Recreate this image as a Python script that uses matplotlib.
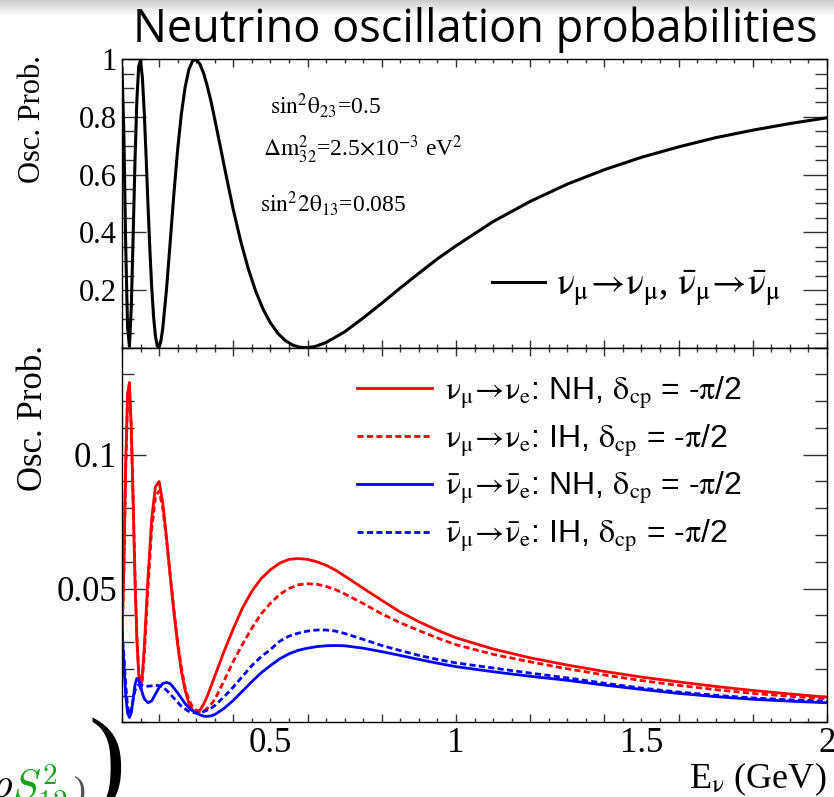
import numpy as np
import matplotlib
matplotlib.use("Agg")
import matplotlib.pyplot as plt
from matplotlib.ticker import MultipleLocator, FuncFormatter

plt.rcParams['mathtext.fontset'] = 'stix'
plt.rcParams['font.family'] = ['Liberation Serif', 'DejaVu Serif']

# ---------------- data ----------------
E_top = [0.100, 0.105, 0.110, 0.115, 0.120, 0.125, 0.130, 0.135, 0.140, 0.145,
         0.150, 0.155, 0.160, 0.165, 0.170, 0.175, 0.180, 0.185, 0.190, 0.195,
         0.200, 0.205, 0.210, 0.220, 0.230, 0.240, 0.250, 0.260, 0.270, 0.280,
         0.290, 0.300, 0.310, 0.320, 0.330, 0.340, 0.350, 0.360, 0.380, 0.400,
         0.420, 0.440, 0.460, 0.480, 0.500, 0.520, 0.540, 0.560, 0.580, 0.600,
         0.620, 0.650, 0.700, 0.750, 0.800, 0.850, 0.900, 0.950, 1.000, 1.100,
         1.200, 1.300, 1.400, 1.500, 1.600, 1.700, 1.800, 1.900, 2.000]
P_mumu = [0.970, 0.744, 0.353, 0.070, 0.005, 0.139, 0.385, 0.647, 0.857, 0.975,
          0.997, 0.935, 0.814, 0.661, 0.496, 0.343, 0.211, 0.109, 0.041, 0.006,
          0.002, 0.024, 0.069, 0.203, 0.368, 0.536, 0.687, 0.810, 0.902, 0.963,
          0.994, 0.999, 0.983, 0.951, 0.906, 0.853, 0.792, 0.729, 0.601, 0.478,
          0.369, 0.275, 0.197, 0.134, 0.086, 0.050, 0.025, 0.009, 0.0015, 0.0002,
          0.004, 0.018, 0.055, 0.103, 0.154, 0.207, 0.258, 0.308, 0.353, 0.437,
          0.507, 0.567, 0.617, 0.660, 0.696, 0.728, 0.754, 0.777, 0.797]

E_app = [0.100, 0.105, 0.110, 0.115, 0.120, 0.125, 0.130, 0.135, 0.140, 0.145,
         0.150, 0.155, 0.160, 0.170, 0.180, 0.190, 0.200, 0.210, 0.220, 0.230,
         0.240, 0.250, 0.260, 0.270, 0.280, 0.290, 0.300, 0.310, 0.320, 0.330,
         0.340, 0.350, 0.375, 0.400, 0.425, 0.450, 0.475, 0.500, 0.525, 0.550,
         0.575, 0.600, 0.625, 0.650, 0.675, 0.700, 0.750, 0.800, 0.850, 0.900,
         0.950, 1.000, 1.100, 1.200, 1.300, 1.400, 1.500, 1.600, 1.700, 1.800,
         1.900, 2.000]
P_nue_NH = [0.032, 0.058, 0.097, 0.123, 0.127, 0.110, 0.082, 0.053, 0.031, 0.018,
            0.0125, 0.018, 0.028, 0.054, 0.076, 0.088, 0.090, 0.082, 0.069, 0.0545,
            0.041, 0.029, 0.019, 0.012, 0.0072, 0.0045, 0.0036, 0.0045, 0.0068, 0.0098,
            0.0135, 0.0172, 0.0265, 0.0350, 0.0428, 0.0490, 0.0537, 0.0570, 0.0595, 0.0609,
            0.0612, 0.0609, 0.0600, 0.0587, 0.0569, 0.0547, 0.0501, 0.0456, 0.0412, 0.0376,
            0.0344, 0.0316, 0.0274, 0.0241, 0.0214, 0.0190, 0.0169, 0.0151, 0.0134, 0.0119,
            0.0106, 0.0094]
P_nue_IH = [0.031, 0.056, 0.094, 0.120, 0.125, 0.111, 0.084, 0.056, 0.033, 0.019,
            0.0130, 0.0160, 0.025, 0.050, 0.072, 0.084, 0.0865, 0.080, 0.068, 0.055,
            0.042, 0.030, 0.0205, 0.013, 0.0085, 0.0058, 0.0045, 0.0040, 0.0042, 0.0052,
            0.0067, 0.0085, 0.0155, 0.0228, 0.0292, 0.0352, 0.0405, 0.0445, 0.0478, 0.0500,
            0.0514, 0.0518, 0.0516, 0.0508, 0.0496, 0.0480, 0.0444, 0.0405, 0.0372, 0.0343,
            0.0315, 0.0290, 0.0254, 0.0226, 0.0200, 0.0177, 0.0156, 0.0138, 0.0122, 0.0108,
            0.0097, 0.0088]
P_nuebar_NH = [0.034, 0.022, 0.010, 0.0035, 0.0018, 0.0035, 0.0085, 0.0140, 0.0164, 0.0160,
               0.0135, 0.0108, 0.0088, 0.0073, 0.0080, 0.0105, 0.0130, 0.0145, 0.0149, 0.0144,
               0.0128, 0.0110, 0.0090, 0.0070, 0.0055, 0.0043, 0.0035, 0.0028, 0.0023, 0.0022,
               0.0024, 0.0029, 0.0052, 0.0082, 0.0117, 0.0152, 0.0185, 0.0212, 0.0237, 0.0256,
               0.0269, 0.0277, 0.0283, 0.0286, 0.0287, 0.0286, 0.0277, 0.0264, 0.0250, 0.0235,
               0.0221, 0.0208, 0.0189, 0.0172, 0.0157, 0.0139, 0.0123, 0.0108, 0.0096, 0.0086,
               0.0079, 0.0073]
P_nuebar_IH = [0.034, 0.025, 0.014, 0.006, 0.003, 0.0045, 0.0085, 0.0118, 0.0135, 0.0140,
               0.0140, 0.0138, 0.0136, 0.0135, 0.0136, 0.0138, 0.0137, 0.0132, 0.0120, 0.0105,
               0.0090, 0.0075, 0.0060, 0.0050, 0.0041, 0.0036, 0.0035, 0.0036, 0.0040, 0.0046,
               0.0053, 0.0062, 0.0095, 0.0132, 0.0172, 0.0212, 0.0245, 0.0272, 0.0303, 0.0322,
               0.0333, 0.0341, 0.0345, 0.0345, 0.0341, 0.0332, 0.0310, 0.0287, 0.0268, 0.0250,
               0.0235, 0.0222, 0.0203, 0.0184, 0.0166, 0.0146, 0.0128, 0.0113, 0.0101, 0.0091,
               0.0084, 0.0079]

x_labels = [0.5, 1.0, 1.5, 2.0]
x_label_text = ["0.5", "1", "1.5", "2"]

title = "Neutrino oscillation probabilities"
NU, MU = r"\mathrm{\nu}", r"\mathrm{\mu}"
NUB = r"\bar{\mathrm{\nu}}"
lab_top = (r"$%s_{%s}\!\rightarrow\!%s_{%s}$, $%s_{%s}\!\rightarrow\!%s_{%s}$"
           % (NU, MU, NU, MU, NUB, MU, NUB, MU))
tail = r": %s, $\mathrm{\delta}_{\mathrm{cp}}$ = -$\mathrm{\pi}$/2"
lab_nue_NH = r"$%s_{%s}\!\rightarrow\!%s_{\mathrm{e}}$" % (NU, MU, NU) + tail % "NH"
lab_nue_IH = r"$%s_{%s}\!\rightarrow\!%s_{\mathrm{e}}$" % (NU, MU, NU) + tail % "IH"
lab_nuebar_NH = r"$%s_{%s}\!\rightarrow\!%s_{\mathrm{e}}$" % (NUB, MU, NUB) + tail % "NH"
lab_nuebar_IH = r"$%s_{%s}\!\rightarrow\!%s_{\mathrm{e}}$" % (NUB, MU, NUB) + tail % "IH"

# ---------------- figure ----------------
W, H = 834, 797
fig = plt.figure(figsize=(W / 100, H / 100), dpi=100)

# slide shadow at the top
axg = fig.add_axes([0, 1 - 16 / H, 1, 16 / H], zorder=-5)
axg.imshow(np.linspace(0.80, 1.0, 32).reshape(-1, 1), cmap='gray', vmin=0, vmax=1,
           aspect='auto', extent=[0, 1, 0, 1])
axg.set_axis_off()

left, right = 122, 827
top1, mid, bot2 = 59.2, 347.7, 722.3
ax1 = fig.add_axes([left / W, (H - mid) / H, (right - left) / W, (mid - top1) / H])
ax2 = fig.add_axes([left / W, (H - bot2) / H, (right - left) / W, (bot2 - mid) / H])

ax1.plot(E_top, P_mumu, color='black', lw=2.2, label=lab_top, solid_joinstyle='round')
ax2.plot(E_app, P_nue_NH, color='#ff0000', lw=2.0, label=lab_nue_NH)
ax2.plot(E_app, P_nue_IH, color='#ff0000', lw=2.0, ls=(0, (2.2, 1.2)), label=lab_nue_IH)
ax2.plot(E_app, P_nuebar_NH, color='#0000ff', lw=2.0, label=lab_nuebar_NH)
ax2.plot(E_app, P_nuebar_IH, color='#0000ff', lw=2.0, ls=(0, (2.2, 1.2)), label=lab_nuebar_IH)

for ax in (ax1, ax2):
    ax.set_xlim(0.1, 2.0)
    ax.xaxis.set_major_locator(MultipleLocator(0.2))
    ax.xaxis.set_minor_locator(MultipleLocator(0.05))
    ax.tick_params(which='both', direction='in', top=True, right=True,
                   color='#333333', width=1.0, labelbottom=False)
    ax.tick_params(axis='y', which='major', length=17, pad=3.6)
    ax.tick_params(axis='y', which='minor', length=8.5)
    ax.tick_params(axis='x', which='major', length=6)
    ax.tick_params(axis='x', which='minor', length=3)
    for s in ax.spines.values():
        s.set_linewidth(1.0)
        s.set_color('black')

def yfmt(v, pos):
    if abs(v) < 1e-9:
        return ""
    return ("%.2f" % v).rstrip('0').rstrip('.')

ax1.set_ylim(0, 1.0)
ax1.yaxis.set_major_locator(MultipleLocator(0.2))
ax1.yaxis.set_minor_locator(MultipleLocator(0.05))
ax1.yaxis.set_major_formatter(FuncFormatter(yfmt))
ax1.tick_params(axis='y', labelsize=22)

ax2.set_ylim(0, 0.14)
ax2.yaxis.set_major_locator(MultipleLocator(0.05))
ax2.yaxis.set_minor_locator(MultipleLocator(0.01))
ax2.yaxis.set_major_formatter(FuncFormatter(yfmt))
ax2.tick_params(axis='y', labelsize=25)

# x tick labels (ROOT style: labels at 0.5 steps)
for xv, xt in zip(x_labels, x_label_text):
    ax2.text(xv, -0.08, xt, transform=ax2.get_xaxis_transform(), ha='center',
             va='baseline', fontsize=25)

# annotations
ax1.text(0.210, 0.810, r"$\mathrm{sin}^{2}\mathrm{\theta}_{23}$=0.5", transform=ax1.transAxes,
         fontsize=17, va='baseline')
ax1.text(0.200, 0.661, r"$\mathrm{\Delta m}^{2}_{32}$=2.5$\times$10$^{-3}$ eV$^{2}$",
         transform=ax1.transAxes, fontsize=17, va='baseline')
ax1.text(0.196, 0.471, r"$\mathrm{sin}^{2}2\mathrm{\theta}_{13}$=0.085", transform=ax1.transAxes,
         fontsize=17, va='baseline')

ax1.legend(loc='center left', bbox_to_anchor=(0.525, 0.205), frameon=False,
           borderpad=0, borderaxespad=0, handlelength=1.42, handletextpad=0.27,
           prop={'family': 'Liberation Serif', 'size': 27})
ax2.legend(loc='center left', bbox_to_anchor=(0.333, 0.6885), frameon=False,
           borderpad=0, borderaxespad=0, handlelength=2.35, handletextpad=0.40,
           labelspacing=0.36, prop={'family': 'Liberation Sans', 'size': 23})

# axis titles
fig.text(33 / W, (H - 55) / H, "Osc. Prob.", rotation=90, ha='center', va='top', fontsize=22)
fig.text(33 / W, (H - 345) / H, "Osc. Prob.", rotation=90, ha='center', va='top', fontsize=25)
fig.text(826 / W, (H - 788) / H, r"E$_{\mathrm{\nu}}$ (GeV)", ha='right', va='baseline',
         fontsize=26)

# slide title
fig.text(133 / W, (H - 42) / H, title, family='Open Sans', fontsize=32.5, ha='left',
         va='baseline', color='black')

# partially visible slide formula (bottom left)
fig.text(-10 / W, (H - 797) / H, r"$\rho$", fontsize=30, math_fontfamily='cm', va='baseline')
fig.text(12 / W, (H - 800) / H, r"$S^{2}_{12}$", fontsize=30, math_fontfamily='cm',
         color='#1aa31a', va='baseline')
fig.text(74 / W, (H - 800) / H, ")", fontsize=26, color='#555555', va='baseline')
fig.text(107 / W, (H - 768) / H, ")", fontsize=80, ha='center', va='center',
         family='Liberation Serif', color='black')

fig.savefig("out.png", dpi=100)
